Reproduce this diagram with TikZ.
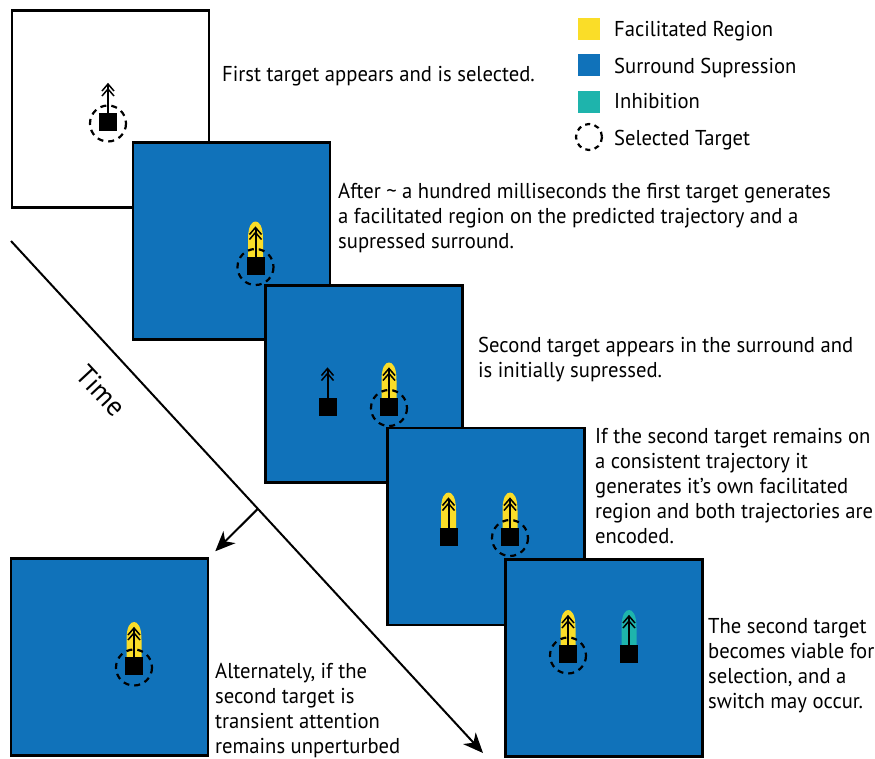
\documentclass[tikz,border=0pt]{standalone}
\usepackage{fontspec}
\setmainfont[FakeStretch=0.96]{PT Sans}
\usetikzlibrary{positioning,calc,arrows.meta}

\definecolor{panelblue}{RGB}{16,114,186}
\definecolor{facyellow}{RGB}{250,221,40}
\definecolor{inhteal}{RGB}{30,180,172}

\tikzset{
    panel/.style={draw=black, line width=2.5pt, fill=panelblue, minimum size=197pt, inner sep=0pt},
    desc/.style={anchor=base west, align=left, inner sep=0pt, font=\fontsize{21.5}{25}\selectfont},
    swatch/.style={minimum size=22pt, inner sep=0pt},
    stem/.style={line width=2pt},
    chev/.style={line width=1.5pt},
    selring/.style={dash pattern=on 6pt off 5pt, line width=2.2pt},
    % a target: black square with its heading arrow
    target/.pic={
        \fill (-9,-9) rectangle (9,9);
        \draw[stem] (0,0) -- (0,-38);
        \draw[chev] (-6,-31) -- (0,-38) -- (6,-31);
        \draw[chev] (-6,-26) -- (0,-33) -- (6,-26);
    },
    region/.pic={
        \fill (-7.5,0) -- (-7.5,-26) .. controls (-7.5,-40) and (-3.5,-44) .. (0,-44)
            .. controls (3.5,-44) and (7.5,-40) .. (7.5,-26) -- (7.5,0) -- cycle;
    },
    ring/.pic={\draw[selring] (0,1.5) circle (18);}
}

\begin{document}
\begin{tikzpicture}[x=1pt, y=-1pt]
                    \useasboundingbox (0,0) rectangle (875,758);
                    % Time axis
                    \coordinate (t0) at (11,241);
                    \coordinate (t1) at (483,753);
                    \coordinate (br) at ($(t0)!0.523!(t1)$);
                    \draw[line width=2pt, -{Stealth[length=20pt, width=17pt, inset=6pt]}] (t0) -- (t1);
                    \node[font=\fontsize{28}{28}\selectfont, rotate=-47, inner sep=0pt] (time) at (101,391) {Time};
                    % Panels
                    \node[panel, fill=white] (p1) at (110.5,109) {};
                    \node[panel] (p2) at (231.5,241) {};
                    \node[panel] (p3) at (364,384) {};
                    \node[panel] (p4) at (486,526.5) {};
                    \node[panel] (p5) at (604,658) {};
                    \node[panel] (p6) at (109.5,657) {};
                    \draw[line width=2pt, -{Stealth[length=20pt, width=17pt, inset=6pt]}] (br) -- ([shift={(6,-6)}]p6.north east);
                    % Targets
                    \pic at (108,122) {target};
                    \pic at (108,122) {ring};
                    \pic[facyellow] at (255.5,265.5) {region};
                    \pic at (255.5,265.5) {target};
                    \pic at (255.5,265.5) {ring};
                    \pic at (327.5,406.5) {target};
                    \pic[facyellow] at (389,406.5) {region};
                    \pic at (389,406.5) {target};
                    \pic at (389,406.5) {ring};
                    \pic[facyellow] at (448.5,536.5) {region};
                    \pic at (448.5,536.5) {target};
                    \pic[facyellow] at (510,536.5) {region};
                    \pic at (510,536.5) {target};
                    \pic at (510,536.5) {ring};
                    \pic[facyellow] at (568,654) {region};
                    \pic at (568,654) {target};
                    \pic at (568,654) {ring};
                    \pic[inhteal] at (629,654) {region};
                    \pic at (629,654) {target};
                    \pic[facyellow] at (134,666) {region};
                    \pic at (134,666) {target};
                    \pic at (134,666) {ring};
                    % Descriptions (anchored at the last line)
                    \node[desc] (d1) at (222,81) {First target appears and is selected.};
                    \node[desc] (d2) at (338,248) {After \textasciitilde{} a hundred milliseconds the first target generates\\a facilitated region on the predicted trajectory and a\\supressed surround.};
                    \node[desc] (d3) at (478,377) {Second target appears in the surround and\\is initially supressed.};
                    \node[desc] (d4) at (595,543) {If the second target remains on\\a consistent trajectory it\\generates it’s own facilitated\\region and both trajectories are\\encoded.};
                    \node[desc] (d5) at (708,708) {The second target\\becomes viable for\\selection, and a\\switch may occur.};
                    \node[desc] (d6) at (215,753) {Alternately, if the\\second target is\\transient attention\\remains unperturbed};
                    % Legend
                    \node[swatch, fill=facyellow] (s1) at (588.5,28.5) {};
                    \node[swatch, fill=panelblue] (s2) at (588.5,64.5) {};
                    \node[swatch, fill=inhteal] (s3) at (588.5,101.5) {};
                    \draw[dash pattern=on 5pt off 4.5pt, line width=2.2pt] (589,137) circle (13);
                    \node[desc] (l1) at (614,36) {Facilitated Region};
                    \node[desc] (l2) at (614,73) {Surround Supression};
                    \node[desc] (l3) at (614,108) {Inhibition};
                    \node[desc] (l4) at (614,145) {Selected Target};
                \end{tikzpicture}
\end{document}
